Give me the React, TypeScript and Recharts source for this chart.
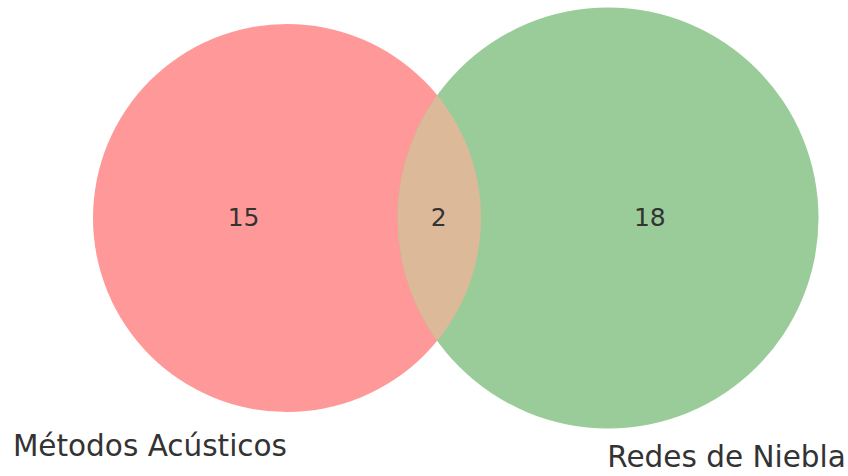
import React from 'react';
import { ScatterChart, Scatter, XAxis, YAxis, ZAxis } from 'recharts';

// set names and region counts
const setNames = ['Métodos Acústicos', 'Redes de Niebla'];
const setTotals = [17, 20];
const onlyCounts = [15, 18];
const overlapCount = 2;

// circle centres (venn layout units)
const centerX = [0, 3.85];
const centerY = [0, 0];

// where the region counts and set names sit (venn layout units)
const countX = [-0.52, 1.82, 4.35];
const countY = [0.01, 0.01, 0.01];
const nameX = [0, 3.84];
const nameY = [-2.85, -2.99];

const colors = ['#ff9999', '#99cc99'];
const overlapColor = '#dcb998';
const textColor = '#333333';
const font = '"DejaVu Sans", sans-serif';

const W = 848;
const H = 476;
const PX_PER_UNIT = 83.4;
const xDomain = [-287 / PX_PER_UNIT, (W - 287) / PX_PER_UNIT];
const yDomain = [-(H - 218) / PX_PER_UNIT, 218 / PX_PER_UNIT];

const circleA = [{ x: centerX[0], y: centerY[0], z: setTotals[0] }];
const circleB = [{ x: centerX[1], y: centerY[1], z: setTotals[1] }];
const counts = [onlyCounts[0], overlapCount, onlyCounts[1]].map((v, i) => ({
  x: countX[i],
  y: countY[i],
  text: String(v),
}));
const names = setNames.map((n, i) => ({ x: nameX[i], y: nameY[i], text: n, anchor: i === 0 ? 'end' : 'start' }));

const makeCircle = (clipDef?: string, clipUse?: string) => (props: any) => {
  const { cx, cy, width, fill } = props;
  const r = width / 2;
  return (
    <g>
      {clipDef && (
        <defs>
          <clipPath id={clipDef}>
            <circle cx={cx} cy={cy} r={r} />
          </clipPath>
        </defs>
      )}
      <circle cx={cx} cy={cy} r={r} fill={fill} clipPath={clipUse ? `url(#${clipUse})` : undefined} />
    </g>
  );
};

const CountLabel = (props: any) => (
  <text x={props.cx} y={props.cy} textAnchor="middle" dominantBaseline="central" fontSize={25} fill={textColor} fontFamily={font}>
    {props.payload.text}
  </text>
);

const NameLabel = (props: any) => (
  <text x={props.cx} y={props.cy} textAnchor={props.payload.anchor} fontSize={29.5} fill={textColor} fontFamily={font}>
    {props.payload.text}
  </text>
);

export default function App() {
  return (
    <div style={{ position: 'absolute', left: 0, top: 0, width: W, height: H, background: '#ffffff' }}>
      <ScatterChart width={W} height={H} margin={{ top: 0, right: 0, bottom: 0, left: 0 }}>
        <XAxis type="number" dataKey="x" domain={xDomain} hide allowDataOverflow />
        <YAxis type="number" dataKey="y" domain={yDomain} hide allowDataOverflow />
        <ZAxis type="number" dataKey="z" domain={[0, 20]} range={[0, 20 * PX_PER_UNIT * PX_PER_UNIT]} />
        <Scatter data={circleA} fill={colors[0]} shape={makeCircle('clipA')} isAnimationActive={false} />
        <Scatter data={circleB} fill={colors[1]} shape={makeCircle()} isAnimationActive={false} />
        <Scatter data={circleB} fill={overlapColor} shape={makeCircle(undefined, 'clipA')} isAnimationActive={false} />
        <Scatter data={counts} shape={CountLabel} isAnimationActive={false} />
        <Scatter data={names} shape={NameLabel} isAnimationActive={false} />
      </ScatterChart>
    </div>
  );
}
